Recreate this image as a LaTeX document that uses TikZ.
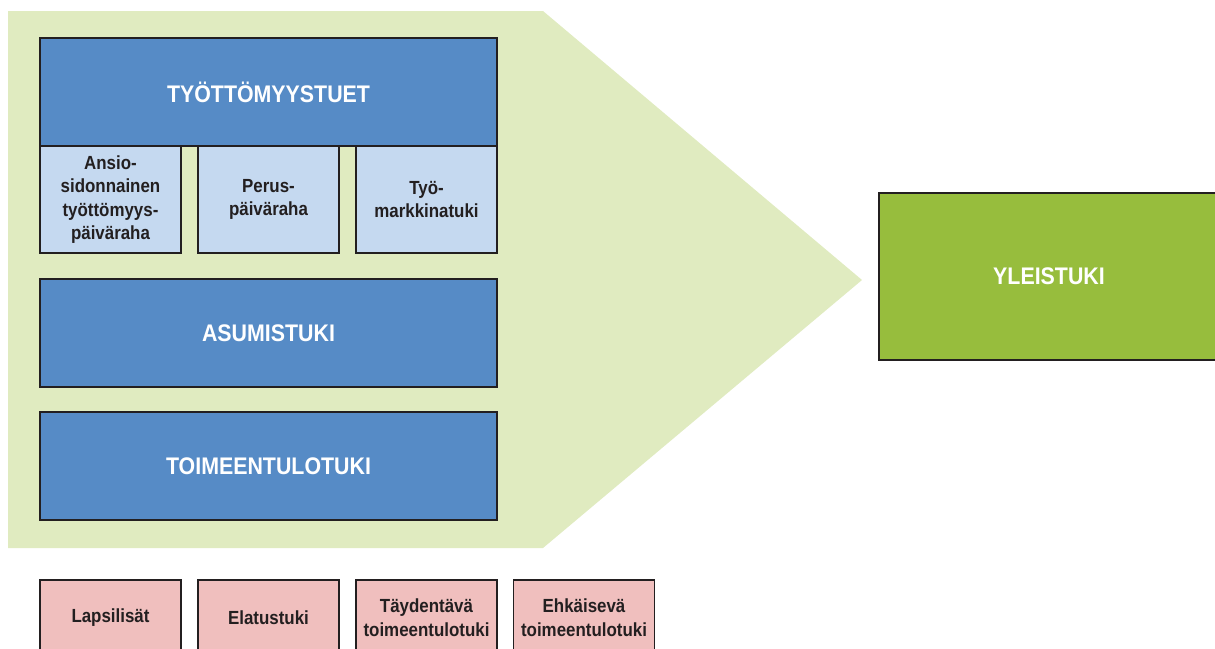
\documentclass[tikz,border=0pt]{standalone}
\usepackage{fontspec}
\setmainfont{Liberation Sans}[FakeStretch=0.89]
\definecolor{penta}{HTML}{E0EBC0}
\definecolor{dblue}{HTML}{568BC6}
\definecolor{lblue}{HTML}{C5D9F0}
\definecolor{ygreen}{HTML}{97BD3D}
\definecolor{pinkc}{HTML}{F0BFBE}
\definecolor{edge}{HTML}{231F20}
\tikzset{
  basebox/.style={draw=edge, line width=1.2pt, inner sep=0pt, outer sep=0pt, align=center, font=\bfseries},
  bigbox/.style={basebox, fill=dblue, text=white, font=\bfseries\fontsize{24}{28}\selectfont},
  subbox/.style={basebox, fill=lblue, text=edge, minimum width=141pt, minimum height=107pt, font=\bfseries\fontsize{19}{23.3}\selectfont},
  pinkbox/.style={basebox, fill=pinkc, text=edge, minimum width=141pt, minimum height=76pt, font=\bfseries\fontsize{19}{24}\selectfont},
  greenbox/.style={basebox, fill=ygreen, text=white, font=\bfseries\fontsize{24}{28}\selectfont}
}
\begin{document}
\begin{tikzpicture}[x=1pt,y=-1pt]
\useasboundingbox (0,0) rectangle (1215,648);
\clip (0,0) rectangle (1215,648);
\fill[penta] (8,11) -- (543,11) -- (862,280) -- (543,548) -- (8,548) -- cycle;
\node[bigbox, minimum width=457pt, minimum height=108pt] (tyot) at (268.5,92) {TYÖTTÖMYYSTUET};
\node[subbox] (ansio) at (110.5,199.5) {Ansio-\\sidonnainen\\työttömyys-\\päiväraha};
\node[subbox] (perus) at (268.5,199.5) {Perus-\\päiväraha};
\node[subbox] (tyom) at (426.5,199.5) {Työ-\\markkinatuki};
\node[bigbox, minimum width=457pt, minimum height=108pt] (asum) at (268.5,333) {ASUMISTUKI};
\node[bigbox, minimum width=457pt, minimum height=108pt] (toim) at (268.5,466) {TOIMEENTULOTUKI};
\node[greenbox, minimum width=340pt, minimum height=167pt] (yleis) at (1049,276.5) {YLEISTUKI};
\node[pinkbox] (lapsi) at (110.5,618) {Lapsilisät};
\node[pinkbox] (elat) at (268.5,618) {Elatustuki};
\node[pinkbox] (tayd) at (426.5,618) {Täydentävä\\toimeentulotuki};
\node[pinkbox] (ehk) at (584,618) {Ehkäisevä\\toimeentulotuki};
\end{tikzpicture}
\end{document}
